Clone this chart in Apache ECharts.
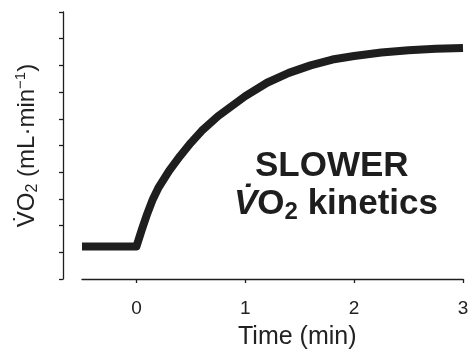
<!DOCTYPE html>
<html>
<head>
<meta charset="utf-8">
<style>html,body{margin:0;padding:0;background:#fff;}#c{width:472px;height:351px;}</style>
<script src="https://cdn.jsdelivr.net/npm/echarts@6/dist/echarts.min.js"></script>
</head>
<body>
<div id="c"></div>
<script>
// Data
const times = [-0.5, 0, 0.05, 0.1, 0.15, 0.2, 0.3, 0.4, 0.5, 0.6, 0.75, 0.9, 1.0, 1.2, 1.4, 1.6, 1.8, 2.0, 2.25, 2.5, 2.75, 3.0];
const vo2 = [1.22, 1.22, 1.85, 2.45, 2.98, 3.4, 4.05, 4.6, 5.1, 5.55, 6.1, 6.55, 6.85, 7.35, 7.72, 8.0, 8.22, 8.35, 8.48, 8.57, 8.62, 8.65];
const xTicks = [0, 1, 2, 3];
const xTitle = 'Time (min)';
const yTitle = '{m|V\u0307O}{sub|2}{m| (mL\u00B7min}{sup|\u22121}{m|)}';
const noteLine1 = 'SLOWER';
const noteLine2 = '{v|V\u0307}{b|O}{sub|2}{b| kinetics}';

const FONT = '"Liberation Sans", Arial, sans-serif';
const INK = '#1e1e1e';
const TXT = '#222';
const chart = echarts.init(document.getElementById('c'), null, {renderer: 'canvas'});
chart.setOption({
  animation: false,
  backgroundColor: '#fff',
  grid: {left: 82, right: 9, top: 12, bottom: 72, containLabel: false},
  xAxis: {
    type: 'value', min: -0.5, max: 3,
    axisLine: {show: true, onZero: false, lineStyle: {color: INK, width: 1.3}},
    axisTick: {show: true, length: 4, customValues: xTicks, lineStyle: {color: INK, width: 1.3}},
    axisLabel: {customValues: xTicks, fontSize: 19, color: TXT, fontFamily: FONT, margin: 20},
    splitLine: {show: false}
  },
  yAxis: {
    type: 'value', min: 0, max: 10, interval: 1, offset: 19,
    name: yTitle, nameLocation: 'middle', nameRotate: 90, nameGap: 22,
    nameTextStyle: {
      fontFamily: FONT, color: TXT,
      rich: {
        m: {fontSize: 24, lineHeight: 28, fontFamily: FONT, color: TXT},
        sub: {fontSize: 16, lineHeight: 12, verticalAlign: 'bottom', fontFamily: FONT, color: TXT},
        sup: {fontSize: 15, lineHeight: 11, verticalAlign: 'top', fontFamily: FONT, color: TXT}
      }
    },
    axisLine: {show: true, onZero: false, lineStyle: {color: INK, width: 1.3}},
    axisTick: {show: true, length: 4, lineStyle: {color: INK, width: 1.3}},
    axisLabel: {show: false},
    splitLine: {show: false}
  },
  series: [{
    type: 'line',
    data: times.map((t, i) => [t, vo2[i]]),
    showSymbol: false, symbol: 'none', smooth: false,
    lineStyle: {color: INK, width: 8, cap: 'butt', join: 'round'}
  }],
  graphic: [
    {type: 'text', left: 238, top: 325, style: {text: xTitle, fontSize: 25, fill: TXT, fontFamily: FONT}},
    {type: 'text', left: 255, top: 149, style: {text: noteLine1, fontSize: 35, fontWeight: 'bold', fill: INK, fontFamily: FONT}},
    {type: 'text', left: 234, top: 187, style: {
      text: noteLine2,
      rich: {
        v: {fontSize: 35, lineHeight: 40, fontWeight: 'bold', fontStyle: 'italic', fill: INK, fontFamily: FONT},
        b: {fontSize: 35, lineHeight: 40, fontWeight: 'bold', fill: INK, fontFamily: FONT},
        sub: {fontSize: 24, lineHeight: 17, verticalAlign: 'bottom', fontWeight: 'bold', fill: INK, fontFamily: FONT}
      }
    }}
  ]
});
</script>
</body>
</html>
